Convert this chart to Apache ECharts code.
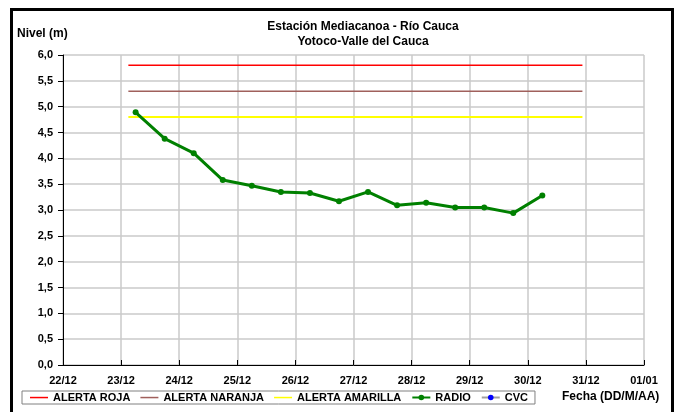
<!DOCTYPE html>
<html>
<head>
<meta charset="utf-8">
<script src="https://cdn.jsdelivr.net/npm/echarts@6/dist/echarts.min.js"></script>
<style>
html,body{margin:0;padding:0;background:#fff;}
#chart{width:683px;height:412px;}
</style>
</head>
<body>
<div id="chart"></div>
<script>
// Tick labels (x axis: days from 22/12 00:00)
var xTickLabels = ['22/12','23/12','24/12','25/12','26/12','27/12','28/12','29/12','30/12','31/12','01/01'];
// RADIO series: time in days after 22/12 00:00, level in m
var radioTimes  = [1.25,1.75,2.25,2.75,3.25,3.75,4.25,4.75,5.25,5.75,6.25,6.75,7.25,7.75,8.25];
var radioValues = [4.89,4.38,4.10,3.58,3.47,3.35,3.33,3.17,3.35,3.09,3.14,3.05,3.05,2.94,3.28];
// Alert thresholds
var alertTimes = [1.125, 8.94];
var alertRoja = 5.8;
var alertNaranja = 5.3;
var alertAmarilla = 4.8;
// CVC series (no data shown)
var cvcTimes = [];
var cvcValues = [];

function pairs(xs, ys){ var o=[]; for(var i=0;i<xs.length;i++){o.push([xs[i],ys[i]]);} return o; }
function flat(xs, v){ return xs.map(function(x){return [x,v];}); }

var FONT = 'Liberation Sans, Arial, sans-serif';
var LINE_ICON = 'path://M0,0M18,7M0,2.8H18V4.3H0Z';
var chart = echarts.init(document.getElementById('chart'), null, {renderer:'canvas'});
chart.setOption({
  animation:false,
  backgroundColor:'#fff',
  textStyle:{fontFamily:FONT},
  title:{
    text:'Estación Mediacanoa - Río Cauca\nYotoco-Valle del Cauca',
    left:358, top:14, textAlign:'center',
    textStyle:{fontFamily:FONT,fontWeight:'bold',fontSize:12,color:'#000',lineHeight:15}
  },
  grid:{left:63,right:39,top:55,bottom:47,containLabel:false},
  legend:{
    left:22, top:391,
    data:[
      {name:'ALERTA ROJA',icon:LINE_ICON},
      {name:'ALERTA NARANJA',icon:LINE_ICON},
      {name:'ALERTA AMARILLA',icon:LINE_ICON},
      'RADIO','CVC'],
    itemWidth:18, itemHeight:7, itemGap:10,
    padding:[1,7,1,8],
    borderColor:'#808080', borderWidth:1,
    textStyle:{fontFamily:FONT,fontWeight:'bold',fontSize:11,color:'#000'}
  },
  xAxis:{
    type:'value', min:0, max:10, interval:1,
    axisLine:{show:true,lineStyle:{color:'#000',width:1}},
    axisTick:{show:true,inside:true,length:5,lineStyle:{color:'#000'}},
    axisLabel:{fontFamily:FONT,fontWeight:'bold',fontSize:11,color:'#000',margin:10,
      formatter:function(v){return xTickLabels[Math.round(v)];}},
    splitLine:{show:true,lineStyle:{color:'#cacaca',width:1.5}}
  },
  yAxis:{
    type:'value', min:0, max:6, interval:0.5,
    name:'Nivel (m)', nameLocation:'end', nameGap:15,
    nameTextStyle:{fontFamily:FONT,fontWeight:'bold',fontSize:12,color:'#000',align:'left',padding:[0,0,0,-46]},
    axisLine:{show:true,lineStyle:{color:'#000',width:1}},
    axisTick:{show:true,inside:false,length:5,lineStyle:{color:'#000'}},
    axisLabel:{fontFamily:FONT,fontWeight:'bold',fontSize:11,color:'#000',margin:10,
      formatter:function(v){return v.toFixed(1).replace('.',',');}},
    splitLine:{show:true,lineStyle:{color:'#cacaca',width:1.5}}
  },
  series:[
    {name:'ALERTA ROJA',type:'line',symbol:'none',data:flat(alertTimes,alertRoja),
     lineStyle:{color:'#ff0000',width:1.5},itemStyle:{color:'#ff0000'}},
    {name:'ALERTA NARANJA',type:'line',symbol:'none',data:flat(alertTimes,alertNaranja),
     lineStyle:{color:'#a0605c',width:1.5},itemStyle:{color:'#a0605c'}},
    {name:'ALERTA AMARILLA',type:'line',symbol:'none',data:flat(alertTimes,alertAmarilla),
     lineStyle:{color:'#ffff00',width:2},itemStyle:{color:'#ffff00'}},
    {name:'RADIO',type:'line',symbol:'circle',symbolSize:6,data:pairs(radioTimes,radioValues),
     lineStyle:{color:'#008000',width:3},itemStyle:{color:'#008000'}},
    {name:'CVC',type:'line',symbol:'circle',symbolSize:5,data:pairs(cvcTimes,cvcValues),
     lineStyle:{color:'#a0a0a0',width:1.5},itemStyle:{color:'#0000ff'}}
  ],
  graphic:[
    {type:'rect',shape:{x:11.5,y:9.5,width:661,height:420},
     style:{fill:'none',stroke:'#000',lineWidth:3},silent:true,z:100},
    {type:'text',left:562,top:391,
     style:{text:'Fecha (DD/M/AA)',fontFamily:FONT,fontWeight:'bold',fontSize:12,fill:'#000'}}
  ]
});
</script>
</body>
</html>
